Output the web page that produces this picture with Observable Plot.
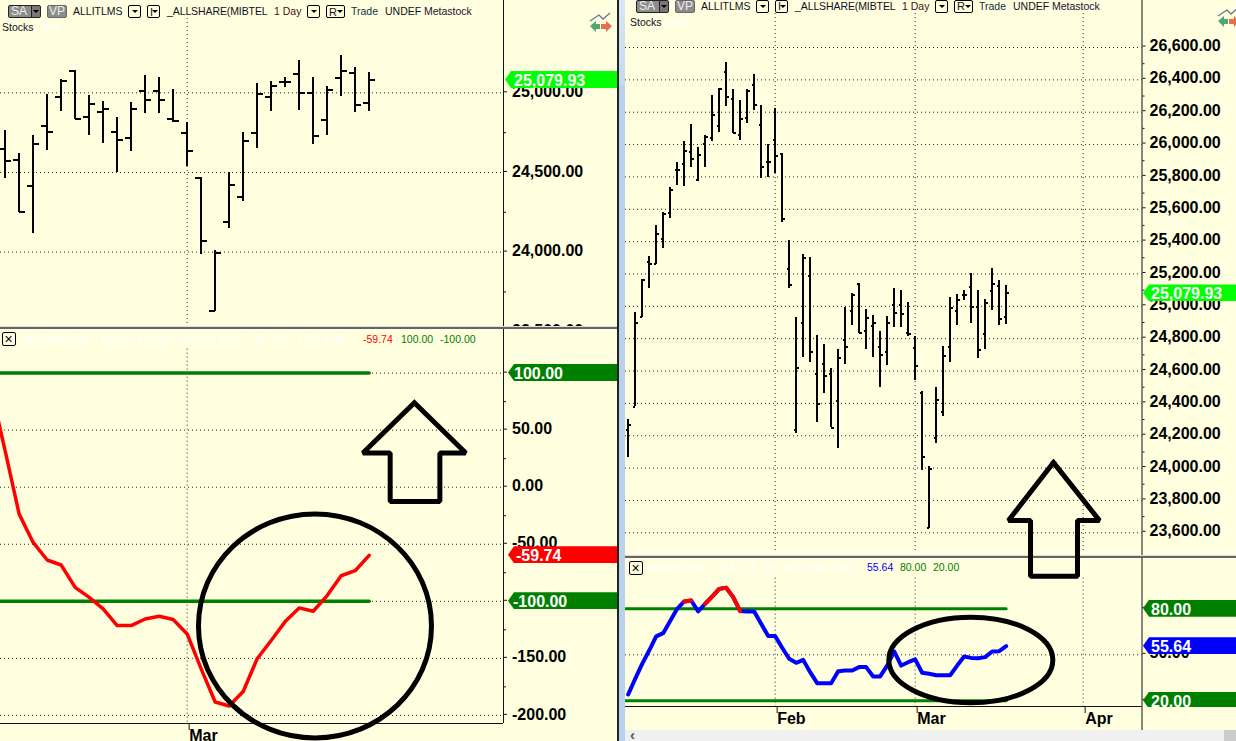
<!DOCTYPE html>
<html><head><meta charset="utf-8">
<script src="https://cdn.jsdelivr.net/npm/d3@7"></script>
<script src="https://cdn.jsdelivr.net/npm/@observablehq/plot@0.6"></script>
<style>
html,body{margin:0;padding:0;background:#FFFFE0;}
#page{position:relative;width:1236px;height:741px;overflow:hidden;background:#FFFFE0;font-family:"Liberation Sans",Arial,sans-serif;}
#page>svg,#page svg.plot,.abs{position:absolute;}
.t{position:absolute;white-space:nowrap;transform:translateY(-50%);font-size:10.5px;line-height:14px;color:#111;}
.tag{position:absolute;height:17px;line-height:19px;font-size:16px;font-weight:bold;color:#fff;box-sizing:border-box;}
</style></head><body><div id="page"></div>
<script>
// ---- daily bars (index 0..54, Feb = 21, Mar = 41, Apr = 65)
const high=[24302,24963,25164,25306,25500,25582,25732,25891,26022,26121,25984,26053,26302,26349,26507,26339,26270,26343,26432,26239,26001,26221,25945,25404,24932,25318,25301,24819,24764,24617,24732,24990,25082,25140,24983,24944,24845,24939,25109,25096,25021,24814,24471,24010,24498,24751,25056,25071,25098,25203,25096,25040,25234,25157,25128];
const low=[24066,24378,24928,25109,25256,25359,25541,25748,25738,25856,25769,25856,26018,26074,26233,26069,26026,26132,26208,25788,25794,25819,25520,25113,24216,24686,24651,24281,24464,24249,24119,24638,24883,24833,24732,24684,24500,24634,24872,24872,24816,24540,23987,23628,24149,24320,24653,24883,25036,24891,24676,24732,24977,24879,24885];
const open=[24236,24378,24932,25273,25260,25414,25576,25844,25881,25955,25783,26005,26038,26115,26449,26279,26059,26163,26370,26123,25893,26030,25939,25230,24236,24897,25189,24583,24646,24580,24414,24791,24973,25138,24847,24877,24751,24715,25010,25010,24833,24745,24464,23628,24188,24349,24747,24973,25071,25119,24996,24831,25092,25126,24933];
const close=[24269,24897,25162,25260,25445,25572,25719,25844,25960,25910,25935,26047,26183,26343,26295,26072,26156,26333,26246,25862,25893,25929,25539,25129,24620,25297,24717,24398,24571,24249,24678,24751,25073,24835,24929,24897,24701,24900,24958,24954,24826,24632,24069,23994,24421,24695,24992,25040,25071,24996,24732,25019,25136,24921,25080];
const moneyFlow=[24.1,34.3,44.1,52.8,62,64.1,72,80,84.8,85.4,78.3,83.3,88,93,93.7,87.6,78.5,78.3,78.3,70.2,62.2,62.2,54.6,47.4,44.8,46.7,38.7,31.5,31.5,31.5,39.3,39.8,39.8,42,42,35.9,35.9,43,52.2,43,45.2,47,38.3,37.6,36.7,36.7,36.7,43,48.9,48,47.8,48.5,52.2,52.4,55.64];
const moneyFlowRed=[8,9,11,12,13,14,15,16];
const mcclellanStart=27;
const mcclellan=[85.7,31.8,-23.6,-48.4,-63.8,-68.2,-87.8,-96.5,-106.7,-121.3,-121.3,-115.5,-113.1,-116,-128.6,-159.2,-188.3,-191.8,-179,-150.4,-134.4,-117.8,-105.8,-108.7,-95,-77.6,-73.2,-59.74];
const leftStart=28;
const monthTicksLeft=[41], monthTicksRight=[21,41,65], monthNames={21:"Feb",41:"Mar",65:"Apr"};
const leftPriceTicks=[25000,24500,24000,23500], leftPriceMinor=[24750,24250,23750];
const rightPriceTicks=[26600,26400,26200,26000,25800,25600,25400,25200,25000,24800,24600,24400,24200,24000,23800,23600];
const rightPriceMinor=[26500,26300,26100,25900,25700,25500,25300,25100,24900,24700,24500,24300,24100,23900,23700];
const mccTicks=[100,50,0,-50,-100,-150,-200], mccMinor=[75,25,-25,-75,-125,-175];
const mccLevels=[100,-100], mfLevels=[80,20], mfTicks=[80,50,20], mfGrid=[50];
// ---- hand-drawn annotations, in each panel's data coordinates
const arrowLeftX=[57.23,53.55,55.5,55.5,59.05,59.05,60.9,57.23], arrowLeftY=[74,30,30,-12.6,-12.6,30,30,74];
const arrowRightX=[60.76,54.33,57.48,57.48,64.19,64.19,67.33,60.76], arrowRightY=[24034,23676,23676,23332,23332,23676,23676,24034];
const circleLeft={x:50.13,y:-121.6}, circleRight={x:48.95,y:46.6};

const page=document.getElementById("page");
const BLK="#111", GREEN="#008000";
const bars=high.map((h,i)=>({i,high:h,low:low[i],open:open[i],close:close[i]}));
const fmt2=d=>d3.format(",.2f")(d).replace("\u2212","-");

function ellipse(ratio){ // ellipse-shaped dot symbol, wide by r, tall by r*ratio
  return {draw(c,size){const a=Math.sqrt(size/Math.PI),b=a*ratio,k=0.5523;
    c.moveTo(a,0);c.bezierCurveTo(a,k*b,k*a,b,0,b);c.bezierCurveTo(-k*a,b,-a,k*b,-a,0);
    c.bezierCurveTo(-a,-k*b,-k*a,-b,0,-b);c.bezierCurveTo(k*a,-b,a,-k*b,a,0);c.closePath();}};
}
function place(plot,left,top,z){plot.style.position="absolute";plot.style.left=left+"px";plot.style.top=top+"px";plot.style.zIndex=z;page.appendChild(plot);return plot;}
const baseStyle=(bg)=>({background:bg,overflow:"visible",fontFamily:"'Liberation Sans',Arial,sans-serif",color:"#000",maxWidth:"none"});
const grid=(vals)=>Plot.ruleY(vals,{stroke:"#222",strokeWidth:1,strokeDasharray:"1,3"});
const vgrid=(vals,y1,y2)=>Plot.ruleX(vals,{x:d=>d,y1,y2,stroke:"#222",strokeWidth:1,strokeDasharray:"1,3"});
const axisR=(ticks,pad,dy)=>Plot.axisY({anchor:"right",ticks,tickSize:3,tickPadding:pad,dy,tickFormat:fmt2,fontSize:16,fontWeight:"bold",stroke:BLK,label:null,fill:"#000"});
const minorR=(ticks)=>Plot.axisY({anchor:"right",ticks,tickSize:2,tickFormat:()=>"",stroke:BLK,label:null});
const hlc=(data,len)=>[
  Plot.ruleX(data,{x:"i",y1:"low",y2:"high",stroke:"#000",strokeWidth:2,shapeRendering:"crispEdges"}),
  Plot.link(data,{x1:d=>d.i-len,x2:"i",y1:"open",y2:"open",stroke:"#000",strokeWidth:2,shapeRendering:"crispEdges"}),
  Plot.link(data,{x1:"i",x2:d=>d.i+len,y1:"close",y2:"close",stroke:"#000",strokeWidth:2,shapeRendering:"crispEdges"})
];
const arrow=(xs,ys)=>Plot.line(xs.map((x,k)=>({x,y:ys[k]})),{x:"x",y:"y",stroke:"#000",strokeWidth:5,strokeLinejoin:"miter",strokeLinecap:"square"});
const xAxis=(ticks,dx)=>Plot.axisX({anchor:"bottom",ticks,tickSize:7,tickPadding:-1,tickFormat:d=>monthNames[d],textAnchor:"start",dx,fontSize:16,fontWeight:"bold",stroke:BLK,label:null,fill:"#000"});

// ---- left price panel
const leftX=[27.667,63.595];
const pLT=place(Plot.plot({width:617,height:326,marginLeft:0,marginTop:0,marginBottom:0,marginRight:114,
  style:baseStyle("#FFFFE0"),
  x:{type:"linear",domain:leftX,axis:null},y:{type:"linear",domain:[23533,25579.5],axis:null},
  marks:[
    grid(leftPriceTicks.filter(d=>d>23533)),
    vgrid(monthTicksLeft,23552,25465),
    ...hlc(bars.slice(leftStart),0.43),
    Plot.ruleX([leftX[1]],{stroke:BLK,strokeWidth:1}),
    axisR(leftPriceTicks,5.5,-1),minorR(leftPriceMinor)
  ]}),0,0,1);

// ---- left oscillator panel
const mccData=mcclellan.map((v,k)=>({i:mcclellanStart+k,v}));
const pLB=place(Plot.plot({width:617,height:413,marginLeft:0,marginTop:0,marginBottom:18,marginRight:114,
  style:baseStyle("#FFFFE0"),
  x:{type:"linear",domain:leftX,axis:null},y:{type:"linear",domain:[-207.1,139.1],axis:null},
  marks:[
    grid(mccTicks),
    vgrid(monthTicksLeft,121,-207.1),
    Plot.line(mccLevels.flatMap(l=>[{i:leftX[0],v:l,l},{i:54,v:l,l}]),{x:"i",y:"v",z:"l",stroke:GREEN,strokeWidth:3.5}),
    Plot.line(mccData,{x:"i",y:"v",stroke:"#FF0000",strokeWidth:3.5,clip:true,strokeLinejoin:"round"}),
    Plot.ruleX([leftX[1]],{stroke:BLK,strokeWidth:1}),
    Plot.ruleY([-207.1],{stroke:BLK,strokeWidth:1}),
    axisR(mccTicks,5.5,-1),minorR(mccMinor),
    xAxis(monthTicksLeft,2),
    arrow(arrowLeftX,arrowLeftY),
    Plot.dot([circleLeft],{x:"x",y:"y",r:116.5,symbol:ellipse(112/116.5),fill:"none",stroke:"#000",strokeWidth:5})
  ]}),0,328,2);

// ---- right oscillator panel
const rightX=[-0.381,73.404];
const mfData=moneyFlow.map((v,i)=>({i,v}));
const pRB=place(Plot.plot({width:611,height:183,marginLeft:0,marginTop:0,marginBottom:35,marginRight:94.5,
  style:baseStyle("#FFFFE0"),
  x:{type:"linear",domain:rightX,axis:null},y:{type:"linear",domain:[16.3,112.8],axis:null},
  marks:[
    grid(mfGrid),
    vgrid(monthTicksRight,100,16.3),
    Plot.line(mfLevels.flatMap(l=>[{i:rightX[0],v:l,l},{i:54,v:l,l}]),{x:"i",y:"v",z:"l",stroke:GREEN,strokeWidth:3}),
    Plot.line(mfData,{x:"i",y:"v",stroke:"#0000FF",strokeWidth:4,clip:true,strokeLinejoin:"round"}),
    Plot.line(mfData,{x:"i",y:d=>moneyFlowRed.includes(d.i)?d.v:NaN,stroke:"#FF0000",strokeWidth:4,strokeLinecap:"round"}),
    Plot.ruleX([rightX[1]],{y1:112.8,y2:0.6,stroke:BLK,strokeWidth:1}),
    Plot.ruleY([16.3],{stroke:BLK,strokeWidth:1}),
    axisR(mfTicks,4.5,-1.5),
    xAxis(monthTicksRight,2),
    Plot.dot([circleRight],{x:"x",y:"y",r:82,symbol:ellipse(42.8/82),fill:"none",stroke:"#000",strokeWidth:5})
  ]}),625,558,2);

// ---- right price panel (transparent, its arrow overlaps the panel below)
const pRT=place(Plot.plot({width:611,height:555,marginLeft:0,marginTop:0,marginBottom:0,marginRight:94.5,
  style:baseStyle("transparent"),
  x:{type:"linear",domain:rightX,axis:null},y:{type:"linear",domain:[23459.6,26890.6],axis:null},
  marks:[
    grid(rightPriceTicks),
    vgrid(monthTicksRight,23490,26810),
    ...hlc(bars,0.36),
    Plot.ruleX([rightX[1]],{stroke:BLK,strokeWidth:1}),
    axisR(rightPriceTicks,4.5,-1.5),minorR(rightPriceMinor),
    arrow(arrowRightX,arrowRightY)
  ]}),625,0,4);

// ---- chrome
function box(x,y,w,h,css,z){const d=document.createElement("div");d.className="abs";
  d.style.cssText+=`left:${x}px;top:${y}px;width:${w}px;height:${h}px;z-index:${z??5};`+(css||"");page.appendChild(d);return d;}
function txt(s,x,cy,color,extra){const d=document.createElement("div");d.className="t";d.textContent=s;
  d.style.left=x+"px";d.style.top=cy+"px";d.style.zIndex=6;if(color)d.style.color=color;if(extra)d.style.cssText+=extra;page.appendChild(d);return d;}
function caret(x,y,color){box(x,y,0,0,`border-left:3px solid transparent;border-right:3px solid transparent;border-top:3px solid ${color||"#000"};`,7);}
function btn(x,y,w,label){box(x,y,w-2,11,"border:1px solid #000;border-radius:2px;background:#FFFFE0;");
  if(label){txt(label,x+3,y+6.5,"#111","font-size:11px;");caret(x+w-8,y+5);}else caret(x+w/2-3,y+5);}
function header(ox,oy){
  box(8+ox,5+oy,22,11,"border:1px solid #222;border-radius:2px 0 0 2px;background:#8C8C8C;");
  txt("SA",11+ox,11+oy,"#EEE","font-size:12px;");
  box(31+ox,5+oy,8,11,"border:1px solid #222;border-radius:0 2px 2px 0;background:#777;");caret(33+ox,10+oy);
  box(47+ox,5+oy,18,11,"border:1px solid #666;border-radius:2px;background:#8C8C8C;");
  txt("VP",49+ox,11+oy,"#EEE","font-size:12px;");
  txt("ALLITLMS",73+ox,11+oy,"#112");
  btn(128+ox,5+oy,13);btn(147+ox,5+oy,13,"I");
  txt("_ALLSHARE(MIBTEL",167+ox,11+oy,"#112","letter-spacing:-0.1px;");
  txt("1 Day",274+ox,11+oy,"#411");
  btn(307+ox,5+oy,13);btn(326+ox,5+oy,19,"R");
  txt("Trade",351+ox,11+oy,"#134");txt("UNDEF",385+ox,11+oy,"#112");txt("Metastock",424+ox,11+oy,"#213");
  txt("Stocks",2+ox,27+oy,"#112");txt("V=0",42+ox,27+oy,"#FFFFFF");
  const ns="http://www.w3.org/2000/svg",s=document.createElementNS(ns,"svg");
  s.setAttribute("width",26);s.setAttribute("height",24);s.style.cssText=`position:absolute;left:${588+ox}px;top:${11+oy}px;z-index:6;`;
  s.innerHTML='<polyline points="2,10 11,4 15,8 22,2" fill="none" stroke="#667790" stroke-width="1.3"/>'+
   '<path d="M2,15 L8,10 L8,13 L12,13 L12,18 L8,18 L8,21 Z" fill="#4FA873"/><path d="M24,15 L18,10 L18,13 L13,13 L13,18 L18,18 L18,21 Z" fill="#E4704F"/>';
  page.appendChild(s);
}
header(0,0);header(628,-5.5);
function closeBox(x,y){box(x,y,12,12,"border:1px solid #000;border-radius:2px;background:#FFFFE0;");
  txt("×",x+2.5,y+7,"#000","font-size:14px;line-height:12px;");}
closeBox(2,332);
txt("McClellan Osc",22,338.5,"#FFFFFF");txt("(close of data1,  close of data2,  19,  39,  -100,  100)",102,338.5,"#FFFFFF","white-space:pre;");
txt("-59.74",363,338.5,"#FF0000");txt("100.00",401,338.5,GREEN);txt("-100.00",440,338.5,GREEN);
closeBox(629,561);
txt("Money Flow",649,567,"#FFFFFF");txt("(14,  14,  20,  80,  cyan,  red)",720,567,"#FFFFFF","white-space:pre;");
txt("55.64",867,567,"#0000FF");txt("80.00",900,567,GREEN);txt("20.00",933,567,GREEN);

// separators, split bar, scrollbar
box(0,325.5,617,1.3,"background:#DDD;",3);box(0,327,617,1.5,"background:#666;",3);
box(625,554.5,611,1.3,"background:#DDD;",3);box(625,556,611,1.5,"background:#666;",3);
box(617,0,1.5,741,"background:#222;",8);
box(618.5,0,6.5,741,"background:#B9D1EA;",8);
box(618.5,0,6.5,85,"background:linear-gradient(#D8E6F4,#C6DAEE);",8);
box(625,730,611,11,"background:#F0F0F0;",8);
box(1223.5,730,12.5,11,"background:#CDCDCD;",8);
const sb=txt("‹",630,735,"#555","font-size:15px;font-weight:bold;");sb.style.zIndex=9;

// ---- value flags on the price axes, placed through each panel's y scale
function flag(plot,top,value,label,bg,left,textX,clipBottom){
  const y=plot.scale("y").apply(value)+top-8.5;
  const host=clipBottom?box(left,0,1236-left,clipBottom,"overflow:hidden;",10):page;
  const d=document.createElement("div");d.className="tag";d.textContent=label;
  const right=left<617?617:1236, ox=clipBottom?0:left;
  d.style.cssText+=`left:${ox}px;top:${y}px;width:${right-left}px;background:${bg};padding-left:${textX-left}px;z-index:10;`+
    "clip-path:polygon(0 50%,6px 0,100% 0,100% 100%,6px 100%);";
  host.appendChild(d);
}
flag(pLT,0,25079.93,"25,079.93","#00FF00",505,514);
flag(pLB,328,100,"100.00",GREEN,508,514);
flag(pLB,328,-59.74,"-59.74","#FF0000",508,516);
flag(pLB,328,-100,"-100.00",GREEN,508,513);
flag(pRT,0,25079.93,"25,079.93","#00FF00",1143,1151);
flag(pRB,558,80,"80.00",GREEN,1143,1151);
flag(pRB,558,55.64,"55.64","#0000FF",1143,1151);
flag(pRB,558,20,"20.00",GREEN,1143,1151,706.7);
</script></body></html>
